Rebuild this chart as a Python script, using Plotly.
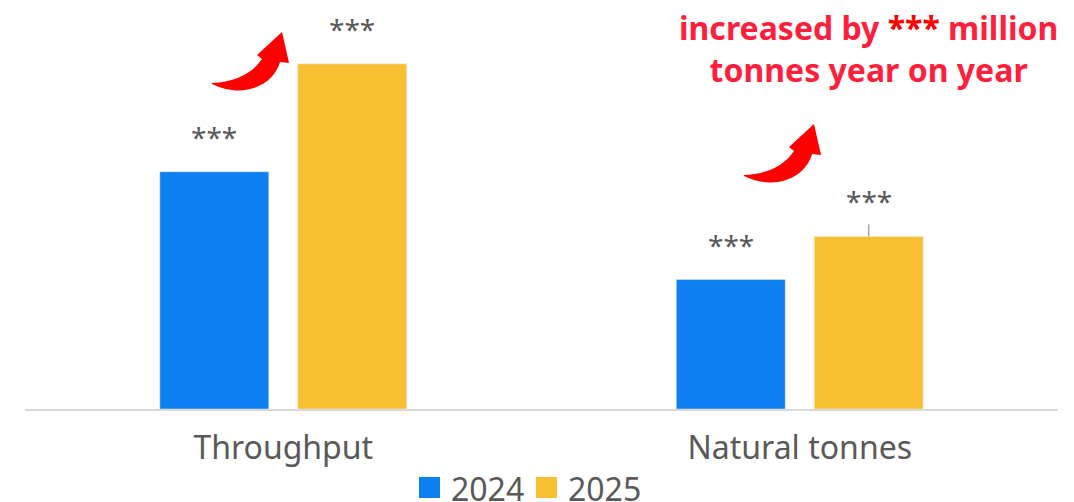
import plotly.graph_objects as go

# ---- data ----
categories = ["Throughput", "Natural tonnes"]
series_names = ["2024", "2025"]
values_2024 = [5.5, 3.0]
values_2025 = [8.0, 4.0]
value_labels_2024 = ["***", "***"]
value_labels_2025 = ["***", "***"]
leader_2025 = [0.0, 0.28]          # short leader line above the moved label
callout_lines = ["increased by <span style='color:#ff0000'>***</span> million",
                 "tonnes year on year"]

# ---- styling ----
BLUE = "#0d7ff0"
YELLOW = "#f9bf33"
GREY_TXT = "#595959"
RED_TXT = "#ff1f3d"
ARROW_RED = "#ff0000"
FONT = "Noto Sans"

W, H = 1074, 502
L, R, T, B = 25, 16, 0, 93
PW, PH = W - L - R, H - T - B
Y_MAX = 9.48
BAR_OFFSET_PX = 69          # half of one bar slot inside a category


def px(x):
    return (x - L) / PW


def py(y):
    return (H - B - y) / PH


def arrow_path(dx, dy):
    """Curved block arrow pointing up-right, defined in page pixels."""
    pts = {
        "tail": (212, 83),
        "t1": (235, 82), "t2": (252, 74), "notchL": (262, 59),
        "headL": (257, 55), "tip": (282, 32), "headR": (289, 63),
        "notchR": (280, 62), "b1": (274, 84), "b2": (245, 100),
        "tailB": (212, 84),
    }
    p = {k: (px(x + dx), py(y + dy)) for k, (x, y) in pts.items()}
    f = lambda k: f"{p[k][0]:.4f},{p[k][1]:.4f}"
    return (f"M{f('tail')} C{f('t1')} {f('t2')} {f('notchL')} "
            f"L{f('headL')} L{f('tip')} L{f('headR')} L{f('notchR')} "
            f"C{f('b1')} {f('b2')} {f('tailB')} Z")


fig = go.Figure()
fig.add_trace(go.Bar(x=categories, y=values_2024, name=series_names[0],
                     marker_color=BLUE, showlegend=False))
fig.add_trace(go.Bar(x=categories, y=values_2025, name=series_names[1],
                     marker_color=YELLOW, showlegend=False,
                     error_y=dict(type="data", symmetric=False, array=leader_2025,
                                  arrayminus=[0, 0], color="#a6a6a6",
                                  thickness=1.5, width=0)))

annotations = []
for i, cat in enumerate(categories):
    for vals, labels, shift in ((values_2024, value_labels_2024, -BAR_OFFSET_PX),
                                (values_2025, value_labels_2025, BAR_OFFSET_PX)):
        annotations.append(dict(x=cat, y=vals[i], xref="x", yref="y", text=labels[i],
                                showarrow=False, xshift=shift, yshift=14,
                                yanchor="bottom",
                                font=dict(family=FONT, size=28, color=GREY_TXT)))

annotations.append(dict(x=px(868), y=py(48.5), xref="paper", yref="paper",
                        text="<br>".join(callout_lines), showarrow=False,
                        xanchor="center", yanchor="middle", align="center",
                        font=dict(family=FONT, size=32, color=RED_TXT, weight="bold")))

# legend drawn as squares + labels below the axis
shapes = []
legend_items = [(series_names[0], BLUE, 419), (series_names[1], YELLOW, 536)]
for name, color, x0 in legend_items:
    shapes.append(dict(type="rect", xref="paper", yref="paper",
                       x0=px(x0), x1=px(x0 + 21), y0=py(477), y1=py(498),
                       fillcolor=color, line_width=0))
    annotations.append(dict(x=px(x0 + 31), y=py(488), xref="paper", yref="paper",
                            text=name, showarrow=False, xanchor="left",
                            yanchor="middle", height=26, valign="middle",
                            borderpad=0,
                            font=dict(family=FONT, size=32, color=GREY_TXT)))

for dx, dy in ((0, 0), (532, 92)):
    shapes.append(dict(type="path", xref="paper", yref="paper",
                       path=arrow_path(dx, dy), fillcolor=ARROW_RED, line_width=0))

fig.update_layout(
    width=W, height=H,
    margin=dict(l=L, r=R, t=T, b=B),
    paper_bgcolor="white", plot_bgcolor="white",
    barmode="group", bargap=0.466, bargroupgap=0.21,
    showlegend=False,
    annotations=annotations, shapes=shapes,
    xaxis=dict(showline=True, linecolor="#d9d9d9", linewidth=2, ticks="",
               showgrid=False, tickfont=dict(family=FONT, size=32, color=GREY_TXT),
               ticklabelstandoff=10),
    yaxis=dict(visible=False, range=[0, Y_MAX], showgrid=False, zeroline=False),
)

fig.write_html("out.html")
